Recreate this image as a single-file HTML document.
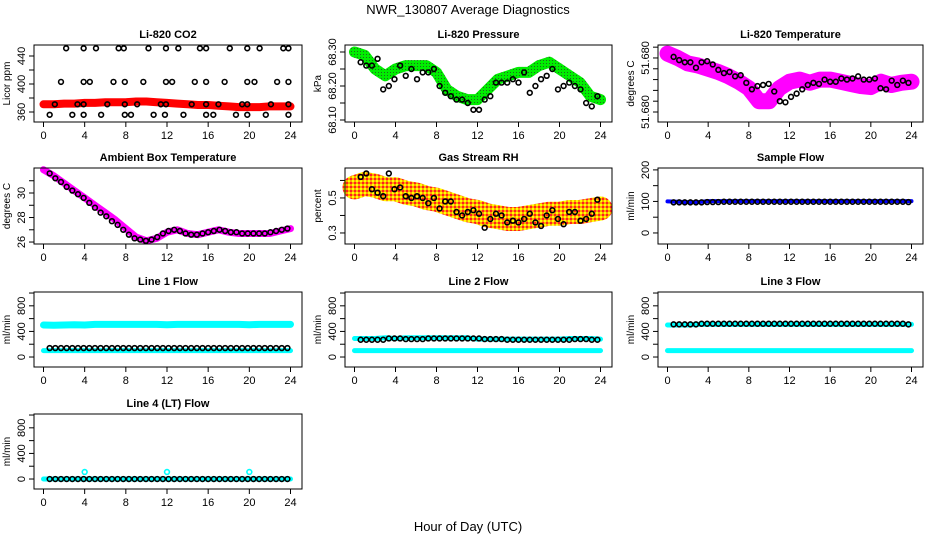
<!DOCTYPE html>
<html><head><meta charset="utf-8"><style>
html,body{margin:0;padding:0;background:#fff;}
svg{display:block;font-family:"Liberation Sans",Arial,sans-serif;}
</style></head><body>
<svg id="chart" width="936" height="540" viewBox="0 0 936 540" xmlns="http://www.w3.org/2000/svg">
<defs>
<pattern id="chkRH" width="4" height="4" patternUnits="userSpaceOnUse"><rect width="4" height="4" fill="#ffa500"/><rect width="2" height="2" fill="#ffff00"/><rect x="2" y="2" width="2" height="2" fill="#ff2020"/></pattern>
<pattern id="chkP" width="3" height="3" patternUnits="userSpaceOnUse"><rect width="3" height="3" fill="#00ee00"/><rect width="1" height="1" fill="#226622"/></pattern>
</defs>
<text x="468" y="14" text-anchor="middle" font-size="13">NWR_130807  Average Diagnostics</text>
<text x="468" y="531" text-anchor="middle" font-size="13">Hour of Day (UTC)</text>
</svg>
<script>
// ---- data ----
const xTicks = [0,4,8,12,16,20,24];
const blackStep = 0.55, blackStart = 0.6;
const hourly = [0,1,2,3,4,5,6,7,8,9,10,11,12,13,14,15,16,17,18,19,20,21,22,23,24];

const co2Red = [371,371,372,372,373,373,374,374,374,375,375,374,373,372,371,370,370,369,368,367,367,367,368,368,368];
const co2Hi1X = [2.2,3.9,5.1,7.3,7.8,10.2,11.9,13.1,15.2,15.8,18.1,19.8,21,23.3,23.8];
const co2Hi2X = [1.7,3.9,4.5,6.8,7.9,9.7,11.9,12.5,14.7,15.8,17.6,19.8,20.5,22.7,23.8];
const co2Mid1X = [1.1,3.3,3.9,6.2,7.9,9.1,11.4,11.9,14.4,15.8,17,19.3,19.8,22.1,23.8];
const co2Lo1X = [0.6,2.8,3.9,5.6,7.9,8.5,10.7,11.8,13.6,15.8,16.5,18.7,19.8,21.6,23.8];
const co2Levels = [451,403,371,356];

const presGreen = [68.30,68.29,68.25,68.23,68.25,68.26,68.26,68.26,68.24,68.19,68.17,68.16,68.16,68.19,68.22,68.23,68.24,68.24,68.26,68.27,68.25,68.23,68.21,68.17,68.16];
const presBlack = [68.27,68.26,68.26,68.28,68.19,68.20,68.22,68.26,68.23,68.25,68.22,68.24,68.24,68.25,68.20,68.18,68.17,68.16,68.16,68.15,68.13,68.13,68.16,68.17,68.21,68.21,68.21,68.22,68.21,68.24,68.18,68.20,68.22,68.23,68.25,68.19,68.20,68.21,68.20,68.19,68.15,68.14,68.17];

const tempMag = [6.4,6.0,5.5,5.3,5.0,4.7,4.3,3.8,3.2,2.0,2.0,3.2,3.8,4.0,3.7,4.0,4.0,3.8,3.6,3.4,3.3,3.8,3.5,3.7,3.8];
const tempBlack = [6.1,5.8,5.6,5.6,5.1,5.6,5.7,5.4,4.9,4.6,4.7,4.3,4.4,3.7,3.1,3.4,3.5,3.6,2.9,2.0,1.9,2.4,2.7,3.1,3.5,3.7,3.6,4.0,3.8,3.8,4.1,4.0,4.1,4.3,4.0,4.0,4.1,3.2,3.1,3.9,3.5,3.9,3.7];

const ambMag = [31.9,31.4,30.8,30.2,29.6,29.0,28.4,27.8,27.1,26.4,26.1,26.3,26.8,27.0,26.7,26.6,26.8,27.0,26.8,26.7,26.7,26.7,26.7,26.9,27.1];
const ambBlack = [31.6,31.2,30.9,30.5,30.2,29.9,29.6,29.2,28.8,28.4,28.1,27.7,27.4,27.0,26.6,26.3,26.2,26.1,26.2,26.4,26.7,26.9,27.0,26.9,26.7,26.6,26.6,26.7,26.8,26.9,27.0,26.9,26.8,26.8,26.7,26.7,26.7,26.7,26.7,26.8,26.9,27.0,27.1];

const rhBand = [0.56,0.58,0.57,0.55,0.55,0.53,0.52,0.50,0.49,0.47,0.45,0.43,0.42,0.40,0.39,0.38,0.38,0.39,0.40,0.41,0.41,0.42,0.42,0.43,0.44];
const rhBlack = [0.62,0.64,0.55,0.53,0.51,0.64,0.55,0.56,0.51,0.50,0.51,0.50,0.47,0.50,0.44,0.48,0.48,0.42,0.40,0.42,0.43,0.41,0.33,0.38,0.41,0.40,0.36,0.37,0.36,0.38,0.41,0.36,0.34,0.40,0.43,0.38,0.35,0.42,0.42,0.37,0.38,0.41,0.49];

const sampBlue = [100,99,98,98,101,101,101,101,101,101,101,101,101,101,101,101,101,101,101,101,101,101,101,101,101];
const sampBlack = [97,97,97,97,97,97,98,98,98,99,99,99,99,99,99,99,99,99,99,99,99,99,99,99,99,99,99,99,99,99,99,99,99,99,99,99,99,99,99,99,99,99,98];

const l1CyanHi = [500,495,500,505,500,510,510,510,510,510,510,510,505,510,510,510,510,510,510,510,505,510,510,510,510];
const l1CyanLo = [100,100,100,100,100,100,100,100,100,100,100,100,100,100,100,100,100,100,100,100,100,100,100,100,100];
const l1Black = [140,140,140,140,140,140,140,140,140,140,140,140,140,140,140,140,140,140,140,140,140,140,140,140,140,140,140,140,140,140,140,140,140,140,140,140,140,140,140,140,140,140,140];

const l2CyanHi = [290,290,290,300,290,300,300,300,300,300,300,300,280,280,280,280,280,280,280,280,280,290,290,290,280];
const l2CyanLo = [100,100,100,100,100,100,100,100,100,100,100,100,100,100,100,100,100,100,100,100,100,100,100,100,100];
const l2Black = [270,270,270,270,270,290,290,290,280,280,280,280,290,290,290,290,290,290,290,290,290,290,280,280,280,280,270,270,270,270,270,270,270,270,270,270,270,270,280,280,280,270,270];

const l3CyanHi = [500,500,500,510,510,510,510,510,510,510,510,510,510,510,510,510,510,510,510,510,510,510,510,510,510];
const l3CyanLo = [100,100,100,100,100,100,100,100,100,100,100,100,100,100,100,100,100,100,100,100,100,100,100,100,100];
const l3Black = [510,510,510,510,510,520,520,520,520,520,520,520,520,520,520,520,520,520,520,520,520,520,520,520,520,520,520,520,520,520,520,520,520,520,520,520,520,520,520,520,520,520,510];

const l4Cyan = [0,0,0,0,0,0,0,0,0,0,0,0,0,0,0,0,0,0,0,0,0,0,0,0,0];
const l4SpikeX = [4,12,20];
const l4SpikeY = [110,110,110];
const l4Black = [0,0,0,0,0,0,0,0,0,0,0,0,0,0,0,0,0,0,0,0,0,0,0,0,0,0,0,0,0,0,0,0,0,0,0,0,0,0,0,0,0,0,0];

// ---- layout ----
const NS = "http://www.w3.org/2000/svg";
const svg = document.getElementById('chart');
const colL = [34,345,658], colR = [302,612,923];
const rowT = [45,168,292,414], rowB = [122,244,367,489];

function mk(tag, attrs, parent){
  const e = document.createElementNS(NS, tag);
  for (const k in attrs) e.setAttribute(k, attrs[k]);
  (parent||svg).appendChild(e);
  return e;
}

function panel(c, r, title, ylab, ylim, yticks, ylabels, name){
  const g = mk('g', {});
  
  
  const L = colL[c], T = rowT[r], B = rowB[r];
  const xs = h => L + 9.5 + (h/24)*(colR[c]-11.5-L-9.5);
  const ys = v => B - (v-ylim[0])/(ylim[1]-ylim[0])*(B-T);
  const plot = mk('g', {}, g);
  
  
  const fr = mk('rect', {x:L, y:T, width:colR[c]-L, height:B-T, fill:'none', stroke:'#000', 'stroke-width':1}, g);
  
  
  const t = mk('text', {x:(L+colR[c])/2, y:T-7, 'text-anchor':'middle', 'font-size':11, 'font-weight':'bold'}, g);
  t.textContent = title;
  
  
  const xa = mk('g', {}, g);
  
  
  mk('line', {x1:xs(0), x2:xs(24), y1:B, y2:B, stroke:'#000'}, xa);
  xTicks.forEach(h => {
    mk('line', {x1:xs(h), x2:xs(h), y1:B, y2:B+5, stroke:'#000'}, xa);
    const tl = mk('text', {x:xs(h), y:B+17, 'text-anchor':'middle', 'font-size':11}, xa);
    tl.textContent = h;
    
    
  });
  const ya = mk('g', {}, g);
  
  
  mk('line', {x1:L, x2:L, y1:ys(yticks[0]), y2:ys(yticks[yticks.length-1]), stroke:'#000'}, ya);
  yticks.forEach((v,i) => {
    mk('line', {x1:L-5, x2:L, y1:ys(v), y2:ys(v), stroke:'#000'}, ya);
    if (ylabels[i]) {
      const yl = mk('text', {x:0, y:0, 'text-anchor':'middle', 'font-size':11, transform:`translate(${L-9},${ys(v)}) rotate(-90)`}, ya);
      yl.textContent = ylabels[i];
      
      
    }
  });
  const yt = mk('text', {x:0, y:0, 'text-anchor':'middle', 'font-size':10, transform:`translate(${L-24},${(T+B)/2}) rotate(-90)`}, g);
  yt.textContent = ylab;
  
  
  return {xs, ys, g:plot};
}

function band(p, xsArr, vals, stroke, w, name){
  const pts = vals.map((v,i) => p.xs(xsArr[i]).toFixed(1)+','+p.ys(v).toFixed(1)).join(' ');
  const pl = mk('polyline', {points:pts, fill:'none', stroke:stroke, 'stroke-width':w, 'stroke-linejoin':'round', 'stroke-linecap':'round'}, p.g);
  
  
}
function pts(p, xsArr, vals, color, name){
  vals.forEach((v,i) => {
    const c = mk('circle', {cx:p.xs(xsArr[i]), cy:p.ys(v), r:2.4, fill:'none', stroke:color, 'stroke-width':1.6}, p.g);
    
    
  });
}
function blackX(n){ const a=[]; for(let i=0;i<n;i++) a.push(blackStart+i*blackStep); return a; }
const bx = blackX(43);

let p = panel(0,0,'Li-820 CO2','Licor ppm',[345.7,455.7],[360,380,400,420,440],['360','','400','','440'],'co2');
band(p, hourly, co2Red, '#ff0000', 8, 'co2-red-series');
pts(p, co2Hi1X, co2Hi1X.map(()=>co2Levels[0]), '#000', 'co2-black-point');
pts(p, co2Hi2X, co2Hi2X.map(()=>co2Levels[1]), '#000', 'co2-black-point');
pts(p, co2Mid1X, co2Mid1X.map(()=>co2Levels[2]), '#000', 'co2-black-point');
pts(p, co2Lo1X, co2Lo1X.map(()=>co2Levels[3]), '#000', 'co2-black-point');

p = panel(1,0,'Li-820 Pressure','kPa',[68.0941,68.3206],[68.10,68.15,68.20,68.25,68.30],['68.10','','68.20','','68.30'],'pressure');
band(p, hourly, presGreen, 'url(#chkP)', 11, 'pressure-green-series');
pts(p, bx, presBlack, '#000', 'pressure-black-point');

p = panel(2,0,'Li-820 Temperature','degrees C',[0.074,7.2],[1,2,3,4,5,6,7],['51.680','','','','','51.680',''],'licor-temperature');
band(p, hourly, tempMag, '#ff00ff', 16, 'temperature-magenta-series');
pts(p, bx, tempBlack, '#000', 'temperature-black-point');

p = panel(0,1,'Ambient Box Temperature','degrees C',[25.84,32.04],[26,27,28,29,30,31],['26','','28','','30',''],'ambient');
band(p, hourly, ambMag, '#ff00ff', 7, 'ambient-magenta-series');
pts(p, bx, ambBlack, '#000', 'ambient-black-point');

p = panel(1,1,'Gas Stream RH','percent',[0.237,0.671],[0.3,0.4,0.5,0.6],['0.3','','0.5',''],'rh');
band(p, hourly, rhBand, 'url(#chkRH)', 24, 'rh-orange-series');
pts(p, bx, rhBlack, '#000', 'rh-black-point');

p = panel(2,1,'Sample Flow','ml/min',[-35,206],[0,50,100,150,200],['0','','100','','200'],'sample-flow');
band(p, hourly, sampBlue, '#0000ff', 4, 'sample-blue-series');
pts(p, bx, sampBlack, '#000', 'sample-black-point');

const flowTicks = [0,200,400,600,800,1000], flowLabels = ['0','','400','','800',''];
p = panel(0,2,'Line 1 Flow','ml/min',[-156,1016],flowTicks,flowLabels,'line1-flow');
band(p, hourly, l1CyanHi, '#00ffff', 7, 'line1-cyan-high');
band(p, hourly, l1CyanLo, '#00ffff', 5, 'line1-cyan-low');
pts(p, bx, l1Black, '#000', 'line1-black-point');
p = panel(1,2,'Line 2 Flow','ml/min',[-156,1016],flowTicks,flowLabels,'line2-flow');
band(p, hourly, l2CyanHi, '#00ffff', 5, 'line2-cyan-high');
band(p, hourly, l2CyanLo, '#00ffff', 5, 'line2-cyan-low');
pts(p, bx, l2Black, '#000', 'line2-black-point');
p = panel(2,2,'Line 3 Flow','ml/min',[-156,1016],flowTicks,flowLabels,'line3-flow');
band(p, hourly, l3CyanHi, '#00ffff', 5, 'line3-cyan-high');
band(p, hourly, l3CyanLo, '#00ffff', 5, 'line3-cyan-low');
pts(p, bx, l3Black, '#000', 'line3-black-point');
p = panel(0,3,'Line 4 (LT) Flow','ml/min',[-156,1016],flowTicks,flowLabels,'line4-flow');
band(p, hourly, l4Cyan, '#00ffff', 5, 'line4-cyan-series');
pts(p, l4SpikeX, l4SpikeY, '#00ffff', 'line4-cyan-spike');
pts(p, bx, l4Black, '#000', 'line4-black-point');
</script>
</body></html>
